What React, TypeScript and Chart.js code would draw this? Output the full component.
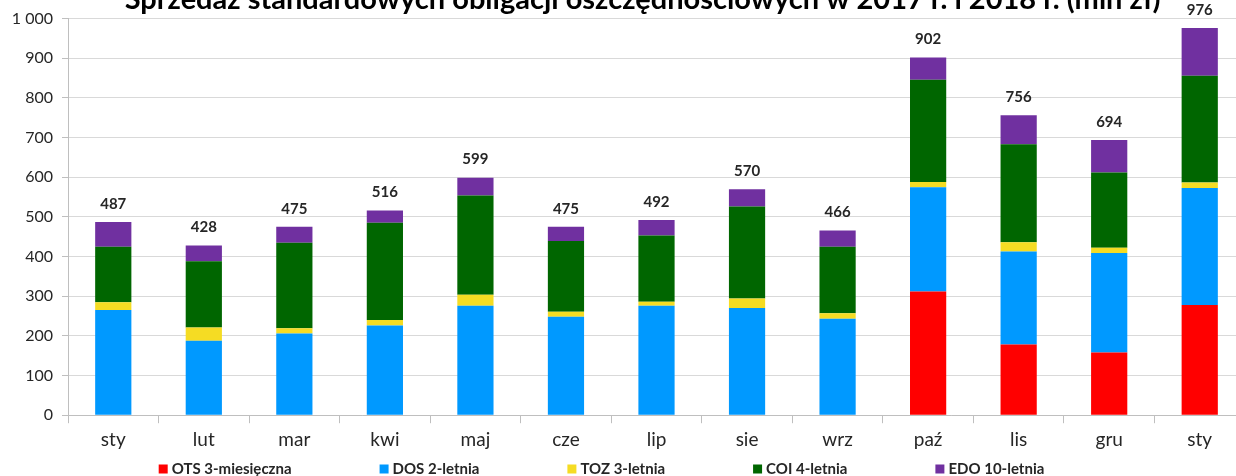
import React, { useEffect, useRef } from "react";
import { Chart, registerables } from "chart.js";

Chart.register(...registerables);

const TITLE = "Sprzedaż standardowych obligacji oszczędnościowych w 2017 r. i 2018 r. (mln zł)";
const categories = ["sty", "lut", "mar", "kwi", "maj", "cze", "lip", "sie", "wrz", "paź", "lis", "gru", "sty"];
const seriesNames = ["OTS 3-miesięczna", "DOS 2-letnia", "TOZ 3-letnia", "COI 4-letnia", "EDO 10-letnia"];
const seriesColors = ["#FF0000", "#0099FF", "#F5DC23", "#006600", "#7030A0"];
const ots = [0, 0, 0, 0, 0, 0, 0, 0, 0, 312, 178, 158, 278];
const dos = [265, 188, 206, 226, 276, 248, 276, 270, 243, 263, 235, 251, 295];
const toz = [20, 33, 13, 14, 28, 13, 10, 24, 14, 13, 23, 13, 14];
const coi = [140, 167, 216, 245, 250, 178, 167, 232, 168, 258, 247, 190, 269];
const edo = [62, 40, 40, 31, 45, 36, 39, 44, 41, 56, 73, 82, 120];
const yTicks = { min: 0, max: 1000, step: 100 };

const FONT = "Lato, 'Open Sans', sans-serif";
const TEXT = "#262626";

const fmt = (v: number) => {
  const s = String(Math.round(v));
  return s.replace(/\B(?=(\d{3})+(?!\d))/g, " ");
};

const totalsPlugin = {
  id: "totals",
  afterDatasetsDraw(chart: any) {
    const ctx = chart.ctx;
    const n = chart.data.labels.length;
    ctx.save();
    ctx.font = `bold 15px ${FONT}`;
    ctx.fillStyle = TEXT;
    ctx.textAlign = "center";
    ctx.textBaseline = "middle";
    for (let i = 0; i < n; i++) {
      let total = 0;
      let top = Infinity;
      let x = 0;
      chart.data.datasets.forEach((ds: any, di: number) => {
        total += ds.data[i];
        const el = chart.getDatasetMeta(di).data[i];
        if (el && ds.data[i] > 0) {
          top = Math.min(top, el.y);
          x = el.x;
        }
      });
      ctx.fillText(fmt(total), x, top - 18);
    }
    ctx.restore();
  },
};

const titlePlugin = {
  id: "cutTitle",
  afterDraw(chart: any) {
    const ctx = chart.ctx;
    const a = chart.chartArea;
    ctx.save();
    ctx.font = `bold 29px ${FONT}`;
    ctx.fillStyle = "#000000";
    ctx.textAlign = "center";
    ctx.textBaseline = "alphabetic";
    ctx.fillText(TITLE, (a.left + a.right) / 2 - 14, 9);
    ctx.restore();
  },
};

const legendPlugin = {
  id: "bottomLegend",
  afterDraw(chart: any) {
    const ctx = chart.ctx;
    const a = chart.chartArea;
    const box = 9;
    const gapText = 4;
    const gap = 88;
    ctx.save();
    ctx.font = `bold 15px ${FONT}`;
    const dss = chart.data.datasets;
    const widths = dss.map((d: any) => box + gapText + ctx.measureText(d.label).width);
    const total = widths.reduce((s: number, w: number) => s + w, 0) + gap * (dss.length - 1);
    const center = (a.left + a.right) / 2 - 55;
    let x = center - total / 2;
    const yMid = chart.height - 7;
    dss.forEach((d: any, i: number) => {
      ctx.fillStyle = d.backgroundColor;
      ctx.fillRect(x, yMid - box / 2, box, box);
      ctx.fillStyle = TEXT;
      ctx.textAlign = "left";
      ctx.textBaseline = "middle";
      ctx.fillText(d.label, x + box + gapText, yMid);
      x += widths[i] + gap;
    });
    ctx.restore();
  },
};

export default function App() {
  const ref = useRef<HTMLCanvasElement | null>(null);
  useEffect(() => {
    document.body.style.overflow = "hidden";
    const series = [ots, dos, toz, coi, edo];
    const chart = new Chart(ref.current as HTMLCanvasElement, {
      type: "bar",
      data: {
        labels: categories,
        datasets: series.map((data, i) => ({
          label: seriesNames[i],
          data,
          backgroundColor: seriesColors[i],
          borderWidth: 0,
          barPercentage: 0.4,
          categoryPercentage: 1,
        })),
      },
      options: {
        animation: false,
        responsive: true,
        maintainAspectRatio: false,
        layout: { padding: { top: 18, bottom: 20, left: 0, right: 5 } },
        plugins: {
          legend: { display: false },
          title: { display: false },
          tooltip: { enabled: false },
        },
        scales: {
          x: {
            stacked: true,
            grid: {
              drawOnChartArea: false,
              drawTicks: true,
              tickLength: 8,
              tickColor: "#BFBFBF",
              offset: true,
            },
            border: { color: "#BFBFBF", width: 1 },
            ticks: { color: TEXT, font: { family: FONT, size: 19 }, padding: 5 },
          },
          y: {
            stacked: true,
            min: yTicks.min,
            max: yTicks.max,
            afterFit: (s: any) => {
              s.width = 68;
            },
            grid: { color: "#D9D9D9", tickLength: 6, tickColor: "#BFBFBF" },
            border: { color: "#BFBFBF", width: 1 },
            ticks: {
              stepSize: yTicks.step,
              color: TEXT,
              padding: 9,
              font: { family: FONT, size: 16 },
              callback: (v: any) => fmt(Number(v)),
            },
          },
        },
      },
      plugins: [totalsPlugin, titlePlugin, legendPlugin],
    });
    return () => chart.destroy();
  }, []);
  return (
    <div style={{ position: "fixed", left: 0, top: 0, width: 1250, height: 476 }}>
      <canvas ref={ref} />
    </div>
  );
}
